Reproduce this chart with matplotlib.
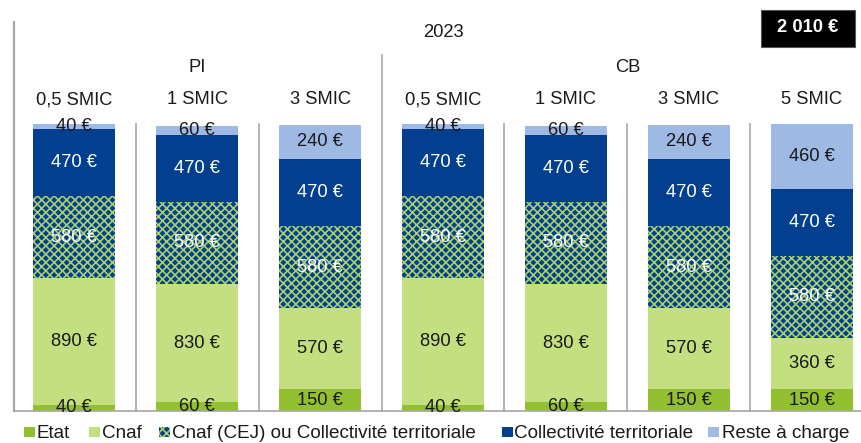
import matplotlib
matplotlib.use("Agg")
import matplotlib.pyplot as plt
import matplotlib.transforms as mtransforms
from matplotlib.patches import Rectangle

plt.rcParams['font.family'] = ['Liberation Sans', 'DejaVu Sans']
plt.rcParams['hatch.linewidth'] = 1.2

# Data
groups = ["PI", "CB"]
categories = ["0,5 SMIC", "1 SMIC", "3 SMIC", "0,5 SMIC", "1 SMIC", "3 SMIC", "5 SMIC"]
etat = [40, 60, 150, 40, 60, 150, 150]
cnaf = [890, 830, 570, 890, 830, 570, 360]
cnaf_cej = [580, 580, 580, 580, 580, 580, 580]
collectivite = [470, 470, 470, 470, 470, 470, 470]
reste = [40, 60, 240, 40, 60, 240, 460]
series_names = ["Etat", "Cnaf", "Cnaf (CEJ) ou Collectivité territoriale",
                "Collectivité territoriale", "Reste à charge"]
year_label = "2023"
total_label = "2 010 €"

C_ETAT = "#93c031"
C_CNAF = "#c4df7f"
C_BLUE = "#02408f"
C_HATCH = "#a8cf6c"
C_RESTE = "#9db9e4"
C_LINE = "#a6a6a6"
C_TEXT = "#1a1a1a"

W, H = 861, 443
fig = plt.figure(figsize=(W / 100, H / 100), dpi=100)
# axes spans the bar area
ax = fig.add_axes([14 / W, 1 - 410.7 / H, 1 - 14 / W, (410.7 - 123.5) / H])

x = list(range(len(categories)))
width = 0.67
FS = 13.2

series = [etat, cnaf, cnaf_cej, collectivite, reste]
colors = [C_ETAT, C_CNAF, C_BLUE, C_BLUE, C_RESTE]
txt_colors = [C_TEXT, C_TEXT, "white", "white", C_TEXT]
bottom = [0] * len(x)
for k, vals in enumerate(series):
    if k == 2:
        ax.bar(x, vals, width, bottom=bottom, color=colors[k],
               edgecolor=C_HATCH, linewidth=0, hatch="xxxx")
    else:
        ax.bar(x, vals, width, bottom=bottom, color=colors[k], linewidth=0)
    for i, v in enumerate(vals):
        ax.text(x[i], bottom[i] + v / 2, f"{v} €", ha="center", va="center",
                fontsize=FS, color=txt_colors[k], zorder=5)
    bottom = [b + v for b, v in zip(bottom, vals)]

ax.set_xlim(-0.49, 6.4)
ax.set_ylim(0, 2020)
ax.set_xticks([])
ax.set_yticks([])
for s in ["top", "right", "left"]:
    ax.spines[s].set_visible(False)
ax.spines["bottom"].set_color(C_LINE)
ax.spines["bottom"].set_linewidth(1.2)

# separators
ax.axvline(-0.49, ymin=0, ymax=1.353, color=C_LINE, lw=1.6, clip_on=False)
for sx in [0.5, 1.5, 3.5, 4.5, 5.5]:
    ax.axvline(sx, ymin=0, ymax=1.0, color=C_LINE, lw=1.2, clip_on=False)
ax.axvline(2.5, ymin=0, ymax=1.2385, color=C_LINE, lw=1.2, clip_on=False)

trans = mtransforms.blended_transform_factory(ax.transData, ax.transAxes)
for i, c in enumerate(categories):
    ax.text(x[i], 1.082, c, transform=trans, ha="center", va="center",
            fontsize=FS, color=C_TEXT)
ax.text(1.0, 1.196, groups[0], transform=trans, ha="center", va="center",
        fontsize=FS, color=C_TEXT)
ax.text(4.5, 1.196, groups[1], transform=trans, ha="center", va="center",
        fontsize=FS, color=C_TEXT)
ax.text(3.0, 1.318, year_label, transform=trans, ha="center", va="center",
        fontsize=FS, color=C_TEXT)

# total box
fig.patches.append(Rectangle((761 / W, 1 - 47 / H), 94 / W, 37 / H,
                             transform=fig.transFigure, facecolor="black",
                             edgecolor="#555555", lw=0.8))
fig.text(808 / W, 1 - 28 / H, total_label, ha="center", va="center",
         fontsize=FS, fontweight="bold", color="white")

# legend
leg_items = [(24, 37, C_ETAT, None), (89, 102, C_CNAF, None),
             (159, 172, C_BLUE, "xxxx"), (502, 514, C_BLUE, None),
             (708, 722, C_RESTE, None)]
for (px, tx, col, hat), name in zip(leg_items, series_names):
    fig.patches.append(Rectangle((px / W, 1 - 437 / H), 11 / W, 10 / H,
                                 transform=fig.transFigure, facecolor=col,
                                 edgecolor=C_HATCH if hat else col,
                                 lw=0, hatch=hat))
    fig.text(tx / W, 1 - 437.5 / H, name, ha="left", va="baseline",
             fontsize=13.6, color=C_TEXT)

fig.savefig("out.png", dpi=100)
